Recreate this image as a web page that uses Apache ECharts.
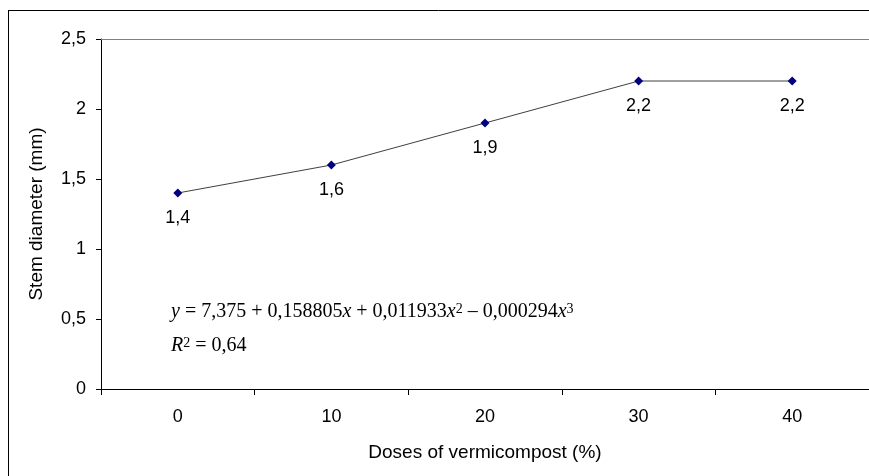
<!DOCTYPE html>
<html>
<head>
<meta charset="utf-8">
<script src="https://cdn.jsdelivr.net/npm/echarts@6/dist/echarts.min.js"></script>
<style>
html,body{margin:0;padding:0;background:#fff;overflow:hidden;}
#chart{width:869px;height:476px;}
</style>
</head>
<body>
<div id="chart"></div>
<script>
const categories = ['0', '10', '20', '30', '40'];
const stemDiameter = [1.4, 1.6, 1.9, 2.2, 2.2];
const yTicks = { min: 0, max: 2.5, interval: 0.5 };
const xName = 'Doses of vermicompost (%)';
const yName = 'Stem diameter (mm)';

const comma = v => String(v).replace('.', ',');
const sans = 'Liberation Sans, Arial, sans-serif';
const serif = 'Liberation Serif, Times New Roman, serif';

const chart = echarts.init(document.getElementById('chart'));
chart.setOption({
  backgroundColor: '#fff',
  animation: false,
  grid: { left: 101, top: 39, right: -3, bottom: 87, containLabel: false },
  xAxis: {
    type: 'category',
    data: categories,
    boundaryGap: true,
    axisLine: { show: true, lineStyle: { color: '#000', width: 1 } },
    axisTick: { show: true, length: 6, alignWithLabel: false, lineStyle: { color: '#000' } },
    axisLabel: { color: '#000', fontSize: 18, fontFamily: sans, margin: 19 },
    splitLine: { show: false },
    name: xName,
    nameLocation: 'middle',
    nameGap: 54,
    nameTextStyle: { color: '#000', fontSize: 19, fontFamily: sans }
  },
  yAxis: {
    type: 'value',
    min: yTicks.min,
    max: yTicks.max,
    interval: yTicks.interval,
    axisLine: { show: true, lineStyle: { color: '#000', width: 1 } },
    axisTick: { show: true, length: 5, lineStyle: { color: '#000' } },
    axisLabel: { color: '#000', fontSize: 18, fontFamily: sans, margin: 15, formatter: comma },
    splitLine: { show: false },
    name: yName,
    nameLocation: 'middle',
    nameGap: 55,
    nameTextStyle: { color: '#000', fontSize: 19, fontFamily: sans }
  },
  series: [{
    type: 'line',
    data: stemDiameter,
    symbol: 'diamond',
    symbolSize: 9,
    itemStyle: { color: '#000080' },
    lineStyle: { color: '#404040', width: 1 },
    label: {
      show: true,
      position: 'bottom',
      distance: 12,
      color: '#000',
      fontSize: 18,
      fontFamily: sans,
      formatter: p => comma(p.value)
    },
    markLine: {
      silent: true,
      symbol: 'none',
      label: { show: false },
      lineStyle: { color: '#808080', type: 'solid', width: 1 },
      data: [{ yAxis: yTicks.max }]
    }
  }],
  graphic: [
    {
      type: 'line',
      silent: true,
      shape: { x1: 8.5, y1: 10, x2: 8.5, y2: 476 },
      style: { stroke: '#000', lineWidth: 1 }
    },
    {
      type: 'line',
      silent: true,
      shape: { x1: 8, y1: 10.5, x2: 869, y2: 10.5 },
      style: { stroke: '#000', lineWidth: 1 }
    },
    {
      type: 'text',
      left: 171,
      top: 302,
      style: {
        text: '{i|y} = 7,375 + 0,158805{i|x} + 0,011933{i|x}{s|2} \u2013 0,000294{i|x}{s|3}',
        font: '20px ' + serif,
        fill: '#000',
        rich: {
          i: { fontStyle: 'italic', fontSize: 20, fontFamily: serif, fill: '#000' },
          s: { fontSize: 14, fontFamily: serif, verticalAlign: 'top', fill: '#000' }
        }
      }
    },
    {
      type: 'text',
      left: 171,
      top: 336,
      style: {
        text: '{i|R}{s|2} = 0,64',
        font: '20px ' + serif,
        fill: '#000',
        rich: {
          i: { fontStyle: 'italic', fontSize: 20, fontFamily: serif, fill: '#000' },
          s: { fontSize: 14, fontFamily: serif, verticalAlign: 'top', fill: '#000' }
        }
      }
    }
  ]
});
</script>
</body>
</html>
